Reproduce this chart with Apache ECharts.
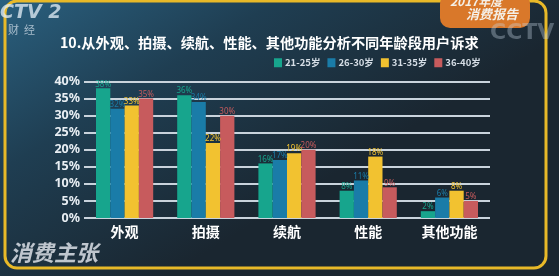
<!DOCTYPE html>
<html><head><meta charset="utf-8">
<script src="https://cdn.jsdelivr.net/npm/echarts@6/dist/echarts.min.js"></script>
<style>html,body{margin:0;padding:0;background:#1d3344;}#c{width:559px;height:276px;}</style>
</head><body><div id="c"></div>
<script>
const categories = ['外观', '拍摄', '续航', '性能', '其他功能'];
const seriesNames = ['21-25岁', '26-30岁', '31-35岁', '36-40岁'];
const age21_25 = [38, 36, 16, 8, 2];
const age26_30 = [32, 34, 17, 11, 6];
const age31_35 = [33, 22, 19, 18, 8];
const age36_40 = [35, 30, 20, 9, 5];
const yTicks = [0, 5, 10, 15, 20, 25, 30, 35, 40];
const colors = ['#17a58d', '#1a7ca8', '#f2c230', '#c75b5d'];
const title = '10.从外观、拍摄、续航、性能、其他功能分析不同年龄段用户诉求';

const chart = echarts.init(document.getElementById('c'));
const allData = [age21_25, age26_30, age31_35, age36_40];
chart.setOption({
  backgroundColor: {
    type: 'linear', x: 0, y: 0, x2: 0.3, y2: 1,
    colorStops: [{offset: 0, color: '#2a607f'}, {offset: 0.45, color: '#1f3e52'}, {offset: 1, color: '#1a2630'}]
  },
  graphic: [
    {type: 'rect', shape: {x: 5, y: 1, width: 541, height: 267, r: 12}, style: {fill: 'none', stroke: '#e8b928', lineWidth: 3}, z: -1},
    {type: 'rect', shape: {x: 440, y: -6, width: 90, height: 34, r: 10}, style: {fill: '#d9782a'}, z: 0},
    {type: 'text', x: 0, y: 4, style: {text: 'CTV 2', fill: 'rgba(230,240,248,0.75)', font: 'bold italic 19px "DejaVu Sans"', verticalAlign: 'top'}},
    {type: 'text', left: 8, top: 24, style: {text: '财  经', fill: 'rgba(220,230,240,0.7)', font: '11px "Noto Sans CJK SC"'}},
    {type: 'text', left: 450, top: -5, style: {text: '2017年度', fill: '#f4f0e8', font: 'bold italic 12px "Noto Sans CJK SC"'}},
    {type: 'text', left: 466, top: 8, style: {text: '消费报告', fill: '#f4f0e8', font: 'bold italic 13px "Noto Sans CJK SC"'}},
    {type: 'text', left: 490, top: 22, style: {text: 'CCTV', fill: 'rgba(200,215,230,0.35)', font: 'bold 22px "DejaVu Sans"'}},
    {type: 'text', left: 10, top: 242, style: {text: '消费主张', fill: 'rgba(220,225,232,0.85)', font: 'bold italic 22px "Noto Sans CJK SC"'}}
  ],
  title: {
    text: title, left: 55, top: 31,
    textStyle: {color: '#ffffff', fontSize: 14.2, fontWeight: 'bold', fontFamily: 'Noto Sans CJK SC'}
  },
  legend: {
    data: seriesNames, left: 269, top: 53, itemWidth: 8, itemHeight: 9, itemGap: 7,
    icon: 'rect',
    textStyle: {color: '#d6dee6', fontSize: 9.5, fontWeight: 'bold', fontFamily: 'Noto Sans CJK SC', padding: [0, 0, 0, -2]}
  },
  grid: {left: 84, right: 69, top: 81.5, bottom: 58},
  xAxis: {
    type: 'category', data: categories,
    axisLine: {show: false}, axisTick: {show: false},
    axisLabel: {color: '#ffffff', fontSize: 14, fontWeight: 'bold', fontFamily: 'Noto Sans CJK SC', margin: 7}
  },
  yAxis: {
    type: 'value', min: yTicks[0], max: yTicks[yTicks.length - 1], interval: 5,
    axisLine: {show: false}, axisTick: {show: false},
    axisLabel: {formatter: '{value}%', color: '#e8eef3', fontSize: 12.5, fontWeight: 'bold', fontFamily: 'Noto Sans', margin: 4},
    splitLine: {lineStyle: {color: '#c9d3dc', width: 2}}
  },
  series: seriesNames.map((n, i) => ({
    name: n, type: 'bar', data: allData[i], barWidth: 14.3, barGap: '0%',
    itemStyle: {color: colors[i]},
    label: {show: true, position: 'top', distance: 0, formatter: '{c}%', fontSize: 8, color: colors[i], fontFamily: 'Noto Sans'}
  }))
});
</script></body></html>
